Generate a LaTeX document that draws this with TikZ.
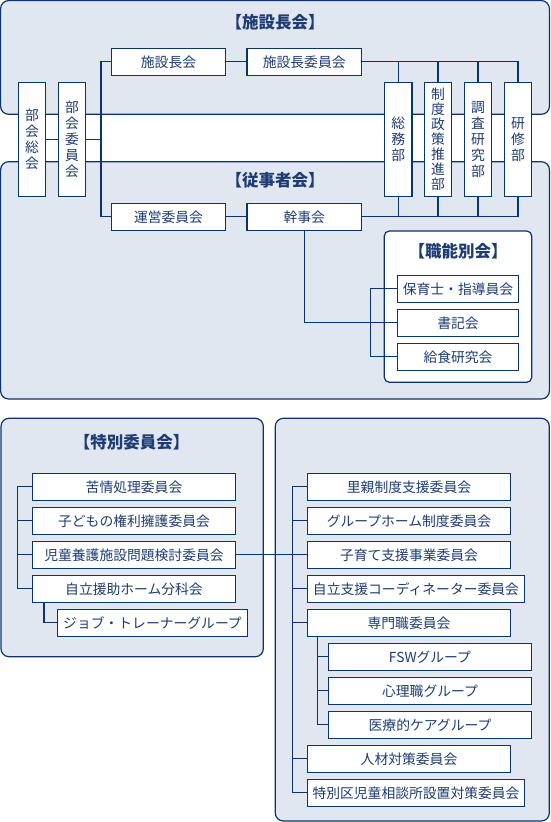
\documentclass[tikz,border=0pt]{standalone}
\usepackage{fontspec}
\setmainfont{Noto Sans CJK JP}
\definecolor{navy}{HTML}{0A3470}
\definecolor{txt}{HTML}{1E3C73}
\definecolor{panel}{HTML}{E1E7F1}
\begin{document}
\begin{tikzpicture}[x=1pt,y=-1pt,
  panelbox/.style={draw=navy, fill=panel, line width=1.2pt, rounded corners=8pt},
  innerpanel/.style={draw=navy, fill=white, line width=1.2pt, rounded corners=5pt},
  box/.style={draw=navy, fill=white, line width=1.2pt, inner sep=0pt, text=txt,
    font=\fontsize{13.8}{16}\selectfont, minimum height=27pt},
  vbox/.style={box, minimum width=27.4pt, minimum height=114pt, align=center},
  ln/.style={draw=navy, line width=1.2pt},
  ttl/.style={text=txt, inner sep=0pt, font=\bfseries\fontsize{16.5}{19}\selectfont}]
\useasboundingbox (0,0) rectangle (550,822);

% panels
\draw[panelbox] (0.6,0.6) rectangle (549.4,114.3);
\draw[panelbox] (0.6,161.7) rectangle (549.4,399);
\draw[panelbox] (1,418.3) rectangle (263.3,656.7);
\draw[panelbox] (275.3,418.3) rectangle (549.3,821);
\draw[innerpanel] (384.3,231) rectangle (531.7,382.3);

\node[ttl] (t1) at (275,22.7) {【施設長会】};
\node[ttl] (t2) at (275,180.7) {【従事者会】};
\node[ttl] (t3) at (458,250.7) {【職能別会】};
\node[ttl] (t4) at (131.7,442.3) {【特別委員会】};

% top section
\node[vbox] (bsk) at (32,139.3) {部\\会\\総\\会};
\node[vbox] (biin) at (72,139.3) {部\\会\\委\\員\\会};
\node[box, minimum width=114.4pt] (shi) at (168.5,61.8) {施設長会};
\node[box, minimum width=114.4pt] (shiin) at (304.2,61.8) {施設長委員会};
\node[box, minimum width=114.4pt] (unei) at (168.5,216.8) {運営委員会};
\node[box, minimum width=114.4pt] (kanji) at (304.2,216.8) {幹事会};
\node[vbox] (soumu) at (398.2,139.3) {総\\務\\部};
\node[vbox, font=\fontsize{13.8}{15}\selectfont] (seido) at (438,139.3) {制\\度\\政\\策\\推\\進\\部};
\node[vbox] (chousa) at (478,139.3) {調\\査\\研\\究\\部};
\node[vbox] (kenshu) at (518,139.3) {研\\修\\部};

\coordinate (trunk) at (101,0);
\draw[ln] (bsk.east) -- (biin.west);
\draw[ln] (biin.east) -- (biin.east -| trunk);
\draw[ln] (shi.west) -- (shi.west -| trunk) -- (unei.west -| trunk) -- (unei.west);
\draw[ln] (shi.east) -- (shiin.west);
\draw[ln] (unei.east) -- (kanji.west);
\draw[ln] (shiin.east) -- (shiin.east -| kenshu.north) -- (kenshu.north);
\draw[ln] (soumu.north |- shiin.east) -- (soumu.north);
\draw[ln] (seido.north |- shiin.east) -- (seido.north);
\draw[ln] (chousa.north |- shiin.east) -- (chousa.north);
\draw[ln] (kanji.east) -- (kanji.east -| kenshu.south) -- (kenshu.south);
\draw[ln] (soumu.south) -- (soumu.south |- kanji.east);
\draw[ln] (seido.south) -- (seido.south |- kanji.east);
\draw[ln] (chousa.south) -- (chousa.south |- kanji.east);

% 職能別会
\node[box, minimum width=121.4pt] (hoiku) at (458,288.8) {保育士・指導員会};
\node[box, minimum width=121.4pt] (shoki) at (458,322.8) {書記会};
\node[box, minimum width=121.4pt] (kyushoku) at (458,356.8) {給食研究会};
\coordinate (br1) at (370.7,0);
\draw[ln] (hoiku.west) -- (hoiku.west -| br1) -- (kyushoku.west -| br1) -- (kyushoku.west);
\draw[ln] (kanji.south) |- (shoki.west);

% 特別委員会
\node[box, minimum width=203.4pt] (kujou) at (134,486.8) {苦情処理委員会};
\node[box, minimum width=203.4pt] (kenri) at (134,520.8) {子どもの権利擁護委員会};
\node[box, minimum width=203.4pt] (jidou) at (134,554.8) {児童養護施設問題検討委員会};
\node[box, minimum width=203.4pt] (jiritsu) at (134,588.8) {自立援助ホーム分科会};
\node[box, minimum width=190.4pt] (job) at (152.5,622.8) {ジョブ・トレーナーグループ};
\coordinate (br2) at (17.3,0);
\coordinate (br3) at (44,0);
\draw[ln] (kujou.west) -- (kujou.west -| br2) -- (jiritsu.west -| br2) -- (jiritsu.west);
\draw[ln] (kenri.west) -- (kenri.west -| br2);
\draw[ln] (jidou.west) -- (jidou.west -| br2);
\draw[ln] (jiritsu.south -| br3) |- (job.west);

% right panel
\node[box, minimum width=203.4pt] (satooya) at (409,486.8) {里親制度支援委員会};
\node[box, minimum width=203.4pt] (ghome) at (409,520.8) {グループホーム制度委員会};
\node[box, minimum width=203.4pt] (kosodate) at (409,554.8) {子育て支援事業委員会};
\node[box, minimum width=217.4pt] (coord) at (416,588.8) {自立支援コーディネーター委員会};
\node[box, minimum width=203.4pt] (senmon) at (409,622.8) {専門職委員会};
\node[box, minimum width=203.4pt] (fsw) at (430,656.8) {FSWグループ};
\node[box, minimum width=203.4pt] (shinri) at (430,690.8) {心理職グループ};
\node[box, minimum width=203.4pt] (iryou) at (430,724.8) {医療的ケアグループ};
\node[box, minimum width=203.4pt] (jinzai) at (409,758.8) {人材対策委員会};
\node[box, minimum width=217.4pt] (tokubetsu) at (416,792.8) {特別区児童相談所設置対策委員会};
\coordinate (br4) at (292.3,0);
\coordinate (br5) at (317.7,0);
\draw[ln] (satooya.west) -- (satooya.west -| br4) -- (tokubetsu.west -| br4) -- (tokubetsu.west);
\draw[ln] (ghome.west) -- (ghome.west -| br4);
\draw[ln] (coord.west) -- (coord.west -| br4);
\draw[ln] (senmon.west) -- (senmon.west -| br4);
\draw[ln] (jinzai.west) -- (jinzai.west -| br4);
\draw[ln] (jidou.east) -- (kosodate.west);
\draw[ln] (senmon.south -| br5) -- (iryou.west -| br5) -- (iryou.west);
\draw[ln] (fsw.west -| br5) -- (fsw.west);
\draw[ln] (shinri.west -| br5) -- (shinri.west);
\end{tikzpicture}
\end{document}
